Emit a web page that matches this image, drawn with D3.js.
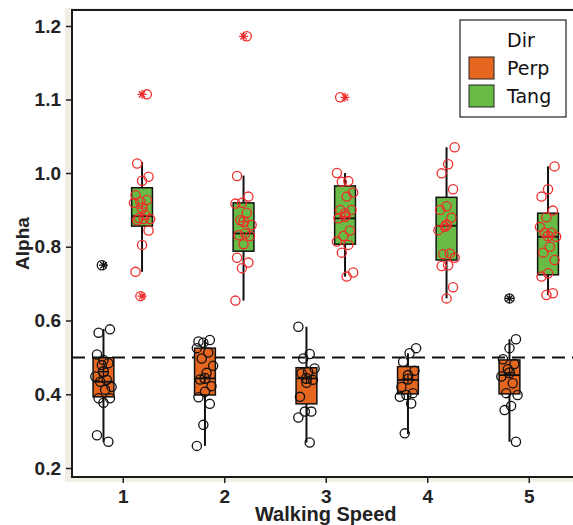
<!DOCTYPE html>
<html>
<head>
<meta charset="utf-8">
<script src="https://cdn.jsdelivr.net/npm/d3@7"></script>
<style>
  body { margin: 0; background: #fff; }
  svg { display: block; }
  .axis text { font-family: 'Liberation Sans', Arial, sans-serif; font-weight: bold; font-size: 19px; fill: #222; }
  .axis line { stroke: #222; stroke-width: 1.5px; }
  .axis path { display: none; }
</style>
</head>
<body>
<script>

// data
var speeds = [1, 2, 3, 4, 5];
var dirs = ['Perp', 'Tang'];
var yTicks = [0.2, 0.4, 0.6, 0.8, 1.0, 1.1, 1.2];

// box stats: [lower whisker, q1, median, q3, upper whisker]
var perpBox = [
  [0.271, 0.393, 0.434, 0.499, 0.577],
  [0.260, 0.398, 0.443, 0.525, 0.547],
  [0.269, 0.374, 0.443, 0.472, 0.583],
  [0.292, 0.401, 0.439, 0.475, 0.511],
  [0.271, 0.401, 0.452, 0.493, 0.549]
];
var tangBox = [
  [0.732, 0.856, 0.883, 0.960, 1.015],
  [0.654, 0.788, 0.836, 0.919, 0.993],
  [0.719, 0.807, 0.877, 0.965, 1.000],
  [0.660, 0.764, 0.857, 0.934, 1.035],
  [0.669, 0.724, 0.827, 0.891, 1.009]
];
var perpMeans = [0.461, 0.443, 0.443, 0.441, 0.458];
var tangMeans = [0.905, 0.868, 0.882, 0.859, 0.829];

var perpOutliers = [[0.750], [], [], [], [0.660]];
var tangOutliers = [[1.107, 0.666], [1.186], [1.103], [], []];

var perpPoints = [
  [0.567, 0.576, 0.493, 0.508, 0.484, 0.479, 0.448, 0.439, 0.434, 0.420, 0.412, 0.389, 0.389, 0.377, 0.289, 0.271, 0.750],
  [0.543, 0.547, 0.540, 0.525, 0.513, 0.497, 0.477, 0.458, 0.440, 0.422, 0.407, 0.392, 0.374, 0.317, 0.260],
  [0.583, 0.509, 0.497, 0.470, 0.461, 0.457, 0.439, 0.431, 0.393, 0.353, 0.353, 0.337, 0.269],
  [0.525, 0.511, 0.488, 0.464, 0.452, 0.420, 0.403, 0.398, 0.393, 0.375, 0.294],
  [0.549, 0.525, 0.495, 0.482, 0.468, 0.448, 0.430, 0.403, 0.398, 0.368, 0.357, 0.271, 0.660]
];
var tangPoints = [
  [1.013, 0.990, 0.979, 0.940, 0.927, 0.922, 0.919, 0.886, 0.878, 0.875, 0.875, 0.872, 0.844, 0.805, 0.732, 1.107, 0.666],
  [0.992, 0.936, 0.919, 0.917, 0.892, 0.872, 0.859, 0.836, 0.831, 0.829, 0.807, 0.770, 0.757, 0.742, 0.654, 1.186],
  [1.000, 0.978, 0.976, 0.947, 0.936, 0.900, 0.900, 0.891, 0.877, 0.844, 0.829, 0.814, 0.805, 0.784, 0.730, 0.719, 1.103],
  [1.035, 1.012, 0.999, 0.956, 0.910, 0.900, 0.879, 0.854, 0.845, 0.782, 0.780, 0.770, 0.750, 0.748, 0.690, 0.660],
  [1.009, 0.956, 0.936, 0.898, 0.880, 0.854, 0.838, 0.838, 0.827, 0.800, 0.784, 0.764, 0.728, 0.719, 0.674, 0.669]
];

// colors
var fillColor = { Perp: '#E5661F', Tang: '#68BB45' };
var pointColor = { Perp: '#111', Tang: '#F02C2C' };

var W = 573, H = 525;
var svg = d3.select('body').append('svg')
            .attr('width', W)
            .attr('height', H);

// scales (y axis labels are unevenly spaced in the original, so piecewise)
var x = d3.scaleLinear().domain([0.5, 5.5]).range([72, 579.5]);
var y = d3.scaleLinear().domain([0.2, 1.0, 1.2]).range([468, 173, 26]);
var dodge = 0.19, boxW = x(0.705) - x(0.5);

var panelTop = 10, panelBottom = 477;

// beige plot background and white panel
svg.append('rect')
   .attr('x', 65).attr('y', 8)
   .attr('width', W).attr('height', 474)
   .attr('fill', '#F2EEE5');
svg.append('rect')
   .attr('x', x(0.5)).attr('y', panelTop)
   .attr('width', x(5.5) - x(0.5)).attr('height', panelBottom - panelTop)
   .attr('fill', '#fff')
   .attr('stroke', '#1a1a1a')
   .attr('stroke-width', 2);

// reference line at 0.5
svg.append('line')
   .attr('x1', x(0.5)).attr('x2', W)
   .attr('y1', y(0.5)).attr('y2', y(0.5))
   .attr('stroke', '#111')
   .attr('stroke-width', 2)
   .attr('stroke-dasharray', '13,7');

var groups = [];
speeds.forEach(function(s, i) {
  groups.push({ speed: s, dir: 'Perp', box: perpBox[i], mean: perpMeans[i], pts: perpPoints[i], out: perpOutliers[i], off: -dodge });
  groups.push({ speed: s, dir: 'Tang', box: tangBox[i], mean: tangMeans[i], pts: tangPoints[i], out: tangOutliers[i], off: dodge });
});

// fixed jitter pattern so the picture is stable
function jit(k) { return ((((k * 7 + 3) % 11) / 10) - 0.5) * 0.16; }

function starPath(cx, cy, r) {
  var d = r * 0.707;
  return 'M' + (cx - r) + ',' + cy + 'H' + (cx + r) +
         'M' + cx + ',' + (cy - r) + 'V' + (cy + r) +
         'M' + (cx - d) + ',' + (cy - d) + 'L' + (cx + d) + ',' + (cy + d) +
         'M' + (cx - d) + ',' + (cy + d) + 'L' + (cx + d) + ',' + (cy - d);
}

var g = svg.selectAll('.grp')
           .data(groups)
           .enter().append('g')
           .attr('class', 'grp');

// whiskers
g.append('line')
 .attr('x1', function(d) { return x(d.speed + d.off); })
 .attr('x2', function(d) { return x(d.speed + d.off); })
 .attr('y1', function(d) { return y(d.box[4]); })
 .attr('y2', function(d) { return y(d.box[3]); })
 .attr('stroke', '#111').attr('stroke-width', 2);
g.append('line')
 .attr('x1', function(d) { return x(d.speed + d.off); })
 .attr('x2', function(d) { return x(d.speed + d.off); })
 .attr('y1', function(d) { return y(d.box[1]); })
 .attr('y2', function(d) { return y(d.box[0]); })
 .attr('stroke', '#111').attr('stroke-width', 2);

// boxes
g.append('rect')
 .attr('x', function(d) { return x(d.speed + d.off) - boxW / 2; })
 .attr('width', boxW)
 .attr('y', function(d) { return y(d.box[3]); })
 .attr('height', function(d) { return y(d.box[1]) - y(d.box[3]); })
 .attr('fill', function(d) { return fillColor[d.dir]; })
 .attr('stroke', '#111')
 .attr('stroke-width', 1.5);
g.append('line')
 .attr('x1', function(d) { return x(d.speed + d.off) - boxW / 2; })
 .attr('x2', function(d) { return x(d.speed + d.off) + boxW / 2; })
 .attr('y1', function(d) { return y(d.box[2]); })
 .attr('y2', function(d) { return y(d.box[2]); })
 .attr('stroke', '#111').attr('stroke-width', 1.8);

// outlier stars
g.selectAll('.star')
 .data(function(d) { return d.out.map(function(v) { return { v: v, g: d }; }); })
 .enter().append('path')
 .attr('class', 'star')
 .attr('d', function(d) { return starPath(x(d.g.speed + d.g.off), y(d.v), 4.5); })
 .attr('fill', 'none')
 .attr('stroke', function(d) { return pointColor[d.g.dir]; })
 .attr('stroke-width', 1.3);

// jittered points
g.selectAll('.pt')
 .data(function(d) { return d.pts.map(function(v, k) { return { v: v, k: k, g: d }; }); })
 .enter().append('circle')
 .attr('class', 'pt')
 .attr('cx', function(d) { return x(d.g.speed + d.g.off + jit(d.k + d.g.speed * 3)); })
 .attr('cy', function(d) { return y(d.v); })
 .attr('r', 4.6)
 .attr('fill', 'none')
 .attr('stroke', function(d) { return pointColor[d.g.dir]; })
 .attr('stroke-width', 1.3);

// mean marker (circle with cross)
g.append('circle')
 .attr('cx', function(d) { return x(d.speed + d.off); })
 .attr('cy', function(d) { return y(d.mean); })
 .attr('r', 5)
 .attr('fill', 'none')
 .attr('stroke', function(d) { return pointColor[d.dir]; })
 .attr('stroke-width', 1.3);
g.append('path')
 .attr('d', function(d) {
   var cx = x(d.speed + d.off), cy = y(d.mean);
   return 'M' + (cx - 5) + ',' + cy + 'H' + (cx + 5) + 'M' + cx + ',' + (cy - 5) + 'V' + (cy + 5);
 })
 .attr('stroke', function(d) { return pointColor[d.dir]; })
 .attr('stroke-width', 1.3);

// axes
svg.append('g')
   .attr('class', 'axis axis--y')
   .attr('transform', 'translate(' + (x(0.5) - 1) + ',0)')
   .call(d3.axisLeft(y).tickValues(yTicks).tickFormat(d3.format('.1f')).tickSize(5).tickPadding(5));

svg.append('g')
   .attr('class', 'axis axis--x')
   .attr('transform', 'translate(0,' + (panelBottom + 1) + ')')
   .call(d3.axisBottom(x).tickValues(speeds).tickFormat(d3.format('d')).tickSize(5).tickPadding(7));

// axis titles
svg.append('text')
   .attr('x', x(3)).attr('y', 521)
   .attr('text-anchor', 'middle')
   .style('font-family', "'Liberation Sans', Arial, sans-serif")
   .style('font-weight', 'bold')
   .style('font-size', '20px')
   .style('fill', '#222')
   .text('Walking Speed');
svg.append('text')
   .attr('text-anchor', 'middle')
   .attr('transform', 'translate(29,' + ((panelTop + panelBottom) / 2) + ')rotate(-90)')
   .style('font-family', "'Liberation Sans', Arial, sans-serif")
   .style('font-weight', 'bold')
   .style('font-size', '19px')
   .style('fill', '#222')
   .text('Alpha');

// legend
var legend = svg.append('g').attr('transform', 'translate(460,20)');
legend.append('rect')
      .attr('width', 106).attr('height', 97)
      .attr('fill', '#fff')
      .attr('stroke', '#222')
      .attr('stroke-width', 1.2);
legend.append('text')
      .attr('x', 47).attr('y', 27)
      .style('font-family', "'DejaVu Sans', sans-serif")
      .style('font-size', '19px')
      .style('fill', '#111')
      .text('Dir');
var li = legend.selectAll('.li')
      .data(dirs)
      .enter().append('g')
      .attr('class', 'li')
      .attr('transform', function(d, i) { return 'translate(0,' + (37 + i * 28) + ')'; });
li.append('rect')
  .attr('x', 9).attr('width', 25).attr('height', 22)
  .attr('fill', function(d) { return fillColor[d]; })
  .attr('stroke', '#222')
  .attr('stroke-width', 1);
li.append('text')
  .attr('x', 47).attr('y', 18)
  .style('font-family', "'DejaVu Sans', sans-serif")
  .style('font-size', '19px')
  .style('fill', '#111')
  .text(function(d) { return d; });

</script>
</body>
</html>
